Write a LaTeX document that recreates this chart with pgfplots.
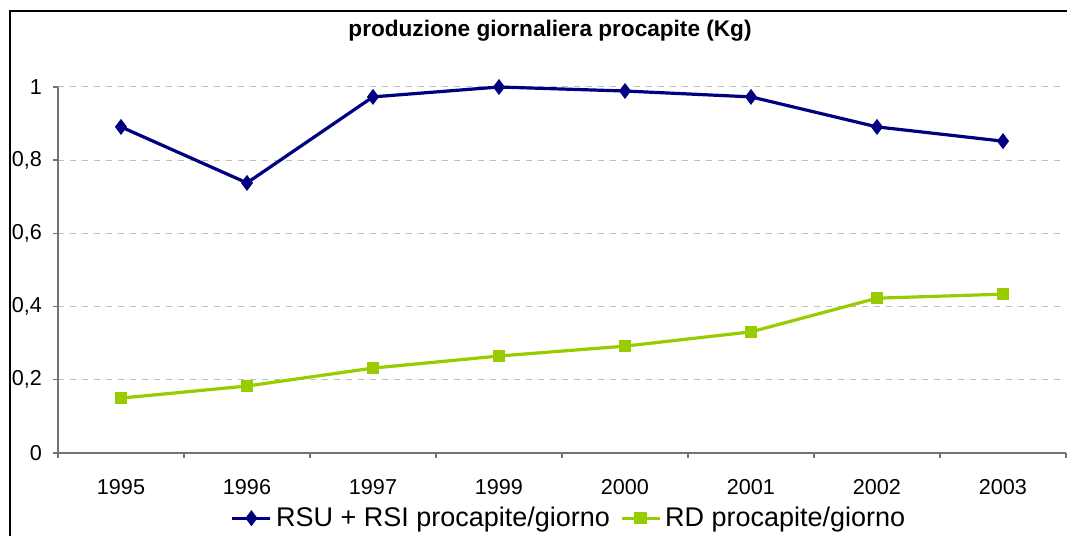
\documentclass[border=0pt]{standalone}
\usepackage{pgfplots}
\pgfplotsset{compat=1.18}
\usepackage{fontspec}
\setmainfont{Liberation Sans}
\definecolor{navyb}{HTML}{000080}
\definecolor{limeg}{HTML}{99CC00}
\begin{document}
\begin{tikzpicture}
\useasboundingbox (0,0) rectangle (533.5pt,268pt);
\draw[line width=1.1pt] (5pt,-10pt) rectangle (545pt,262.5pt);
\node[font=\bfseries\fontsize{11.3}{13}\selectfont] at (275pt,252.5pt) {produzione giornaliera procapite (Kg)};
\begin{axis}[
  scale only axis,
  width=504pt, height=183pt,
  at={(29pt,41.5pt)}, anchor=south west,
  xmin=-0.5, xmax=7.5, ymin=0, ymax=1,
  axis lines=left,
  axis line style={-, draw=gray!90!black, line width=0.7pt},
  xtick={0,...,7},
  xticklabels={1995,1996,1997,1999,2000,2001,2002,2003},
  major x tick style={draw=none},
  minor xtick={-0.5,0.5,...,7.5},
  minor tick length=2.5pt,
  minor x tick style={draw=gray!90!black, line width=0.7pt},
  ytick={0,0.2,...,1.0},
  major tick length=2.5pt,
  tick align=outside,
  y tick style={draw=gray!90!black, line width=0.7pt},
  ymajorgrids,
  major grid style={dashed, gray!50, line width=0.5pt},
  /pgf/number format/use comma,
  /pgf/number format/fixed,
  /pgf/number format/precision=1,
  /pgf/number format/assume math mode=true,
  tick label style={font=\fontsize{10.8}{12}\selectfont},
  xticklabel style={yshift=-7pt},
  yticklabel style={xshift=-2pt},
  legend style={at={(0.508,-0.178)}, anchor=center, draw=none, fill=none,
    font=\fontsize{13.5}{15}\selectfont, legend columns=2,
    /tikz/every even column/.append style={column sep=3pt},
    /tikz/every odd column/.append style={column sep=0pt}},
  legend image code/.code={
    \draw[#1] (-2pt,0pt) -- (17pt,0pt);
    \draw[#1, mark repeat=2, mark phase=2] plot coordinates {(-2pt,0pt) (7.5pt,0pt) (17pt,0pt)};
  },
  clip=false,
]
\addplot[navyb, line width=1.6pt, mark=diamond*, mark size=3.6pt, mark options={solid, line width=0.5pt}]
 coordinates {(0,0.891) (1,0.738) (2,0.973) (3,1.0) (4,0.989) (5,0.973) (6,0.891) (7,0.852)};
\addlegendentry{RSU + RSI procapite/giorno}
\addplot[limeg, line width=1.6pt, mark=square*, mark size=2.8pt, mark options={solid, line width=0.5pt}]
 coordinates {(0,0.150) (1,0.183) (2,0.232) (3,0.265) (4,0.292) (5,0.331) (6,0.423) (7,0.434)};
\addlegendentry{RD procapite/giorno}
\end{axis}
\end{tikzpicture}
\end{document}
